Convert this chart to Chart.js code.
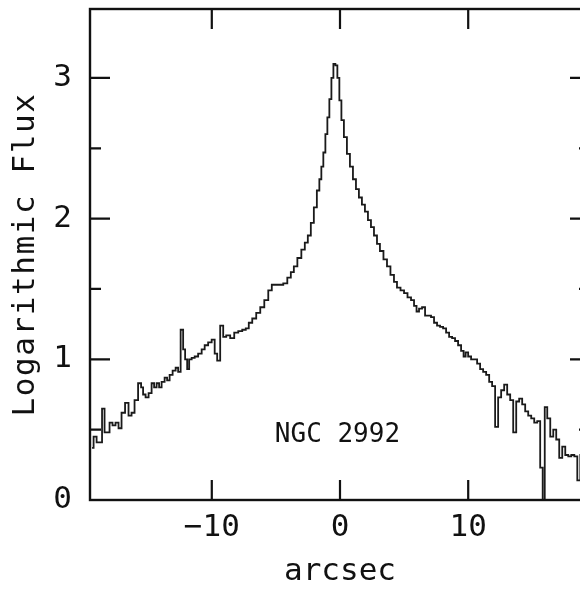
<!DOCTYPE html>
<html>
<head>
<meta charset="utf-8">
<script src="https://cdn.jsdelivr.net/npm/chart.js@4/dist/chart.umd.min.js"></script>
<style>
  html, body { margin: 0; padding: 0; background: #fff; overflow: hidden; width: 580px; height: 590px; }
  #wrap { position: relative; width: 620px; height: 590px; }
</style>
</head>
<body>
<div id="wrap"><canvas id="c" width="620" height="590"></canvas></div>
<script>
// Slit position along the galaxy (arcsec) and the logarithmic flux at each sample
const arcsec = [
  -19.34, -19.10, -18.87, -18.64, -18.48, -18.25, -18.09, -17.86, -17.63, -17.39,
  -17.16, -16.92, -16.61, -16.38, -16.14, -15.91, -15.59, -15.44, -15.28, -15.05,
  -14.81, -14.58, -14.42, -14.19, -14.03, -13.80, -13.56, -13.41, -13.17, -12.94,
  -12.70, -12.55, -12.31, -12.16, -12.00, -11.84, -11.69, -11.45, -11.22, -10.91,
  -10.67, -10.44, -10.13, -9.89, -9.66, -9.50, -9.19, -9.03, -8.72, -8.41,
  -8.09, -7.78, -7.47, -7.23, -7.00, -6.69, -6.38, -6.06, -5.75, -5.44,
  -5.20, -4.89, -4.58, -4.27, -3.95, -3.72, -3.48, -3.17, -2.86, -2.63,
  -2.39, -2.16, -1.92, -1.69, -1.53, -1.38, -1.22, -1.06, -0.91, -0.75,
  -0.59, -0.44, -0.28, -0.13, 0.03, 0.19, 0.42, 0.66, 0.89, 1.13,
  1.36, 1.59, 1.83, 2.06, 2.30, 2.53, 2.77, 3.00, 3.23, 3.55,
  3.78, 4.09, 4.33, 4.56, 4.88, 5.11, 5.42, 5.66, 5.89, 6.05,
  6.28, 6.52, 6.75, 6.98, 7.22, 7.45, 7.69, 7.92, 8.16, 8.39,
  8.63, 8.86, 9.09, 9.33, 9.56, 9.72, 9.88, 10.11, 10.34, 10.58,
  10.81, 11.05, 11.28, 11.52, 11.75, 11.98, 12.22, 12.45, 12.69, 12.92,
  13.16, 13.39, 13.63, 13.86, 14.09, 14.33, 14.56, 14.80, 15.03, 15.27,
  15.50, 15.73, 15.89, 16.05, 16.28, 16.52, 16.75, 16.98, 17.22, 17.45,
  17.69, 17.92, 18.16, 18.39, 18.63, 18.86, 19.10, 19.34
];
const logFlux = [
  0.37, 0.45, 0.41, 0.41, 0.65, 0.48, 0.48, 0.55, 0.53, 0.55,
  0.51, 0.62, 0.69, 0.60, 0.62, 0.71, 0.83, 0.80, 0.75, 0.73,
  0.76, 0.83, 0.80, 0.83, 0.80, 0.84, 0.87, 0.85, 0.89, 0.92,
  0.94, 0.91, 1.21, 1.07, 1.00, 0.93, 1.00, 1.01, 1.02, 1.04,
  1.07, 1.10, 1.12, 1.14, 1.04, 0.99, 1.24, 1.16, 1.17, 1.15,
  1.19, 1.20, 1.21, 1.22, 1.26, 1.29, 1.33, 1.37, 1.42, 1.49,
  1.53, 1.53, 1.53, 1.54, 1.58, 1.62, 1.66, 1.72, 1.78, 1.83,
  1.88, 1.97, 2.08, 2.20, 2.28, 2.37, 2.47, 2.60, 2.72, 2.85,
  3.00, 3.10, 3.09, 3.00, 2.84, 2.70, 2.58, 2.46, 2.37, 2.28,
  2.21, 2.15, 2.10, 2.05, 1.99, 1.94, 1.88, 1.82, 1.77, 1.71,
  1.66, 1.60, 1.55, 1.51, 1.49, 1.47, 1.44, 1.42, 1.38, 1.34,
  1.36, 1.37, 1.31, 1.31, 1.30, 1.26, 1.24, 1.23, 1.22, 1.19,
  1.16, 1.15, 1.13, 1.10, 1.06, 1.02, 1.05, 1.02, 1.00, 1.00,
  0.97, 0.93, 0.91, 0.89, 0.84, 0.81, 0.52, 0.73, 0.78, 0.82,
  0.75, 0.71, 0.48, 0.70, 0.72, 0.68, 0.63, 0.60, 0.58, 0.55,
  0.56, 0.23, 0.00, 0.66, 0.58, 0.45, 0.50, 0.43, 0.30, 0.38,
  0.32, 0.31, 0.32, 0.31, 0.14, 0.32, 0.30, 0.33
];
const xTickValues = [-10, 0, 10];
const yMajorTicks = [0, 1, 2, 3];
const yMinorTicks = [0.5, 1.5, 2.5];
const galaxyName = 'NGC 2992';
const xTitle = 'arcsec';
const yTitle = 'Logarithmic Flux';

const INK = '#111';
const MONO = '"DejaVu Sans Mono", "Liberation Mono", monospace';

// Closed frame with inward-pointing ticks on all four sides, axis titles and the object label
const framePlugin = {
  id: 'frame',
  afterDatasetsDraw(chart) {
    const { ctx, chartArea: a, scales: { x, y } } = chart;
    ctx.save();
    ctx.strokeStyle = INK;
    ctx.lineWidth = 2.4;
    ctx.strokeRect(a.left, a.top, a.right - a.left, a.bottom - a.top);
    ctx.lineWidth = 2.2;
    ctx.beginPath();
    xTickValues.forEach(v => {
      const px = x.getPixelForValue(v);
      ctx.moveTo(px, a.bottom); ctx.lineTo(px, a.bottom - 20);
      ctx.moveTo(px, a.top); ctx.lineTo(px, a.top + 20);
    });
    yMajorTicks.forEach(v => {
      const py = y.getPixelForValue(v);
      ctx.moveTo(a.left, py); ctx.lineTo(a.left + 20, py);
      ctx.moveTo(a.right, py); ctx.lineTo(a.right - 20, py);
    });
    yMinorTicks.forEach(v => {
      const py = y.getPixelForValue(v);
      ctx.moveTo(a.left, py); ctx.lineTo(a.left + 11, py);
      ctx.moveTo(a.right, py); ctx.lineTo(a.right - 11, py);
    });
    ctx.stroke();

    ctx.fillStyle = INK;
    ctx.textAlign = 'center';
    ctx.textBaseline = 'middle';

    ctx.font = '26px ' + MONO;
    ctx.fillText(galaxyName, x.getPixelForValue(-0.2), y.getPixelForValue(0.46));

    ctx.font = '31px ' + MONO;
    ctx.fillText(xTitle, x.getPixelForValue(0), 572);

    ctx.translate(26, (a.top + a.bottom) / 2);
    ctx.rotate(-Math.PI / 2);
    ctx.letterSpacing = '1.6px';
    ctx.fillText(yTitle, 0, 0);
    ctx.restore();
  }
};

new Chart(document.getElementById('c'), {
  type: 'line',
  data: {
    datasets: [{
      data: arcsec.map((v, i) => ({ x: v, y: logFlux[i] })),
      stepped: 'middle',
      borderColor: '#1a1a1a',
      borderWidth: 1.8,
      pointRadius: 0,
      fill: false
    }]
  },
  options: {
    responsive: false,
    animation: false,
    events: [],
    layout: { padding: { top: 9, right: 30, left: 0, bottom: 0 } },
    plugins: { legend: { display: false }, tooltip: { enabled: false } },
    scales: {
      x: {
        type: 'linear',
        min: -19.5,
        max: 19.5,
        afterFit(s) { s.height = 90; s.paddingLeft = 0; s.paddingRight = 0; },
        afterBuildTicks(s) { s.ticks = xTickValues.map(v => ({ value: v })); },
        grid: { display: false, drawTicks: false },
        border: { display: false },
        ticks: {
          color: INK,
          padding: 9,
          maxRotation: 0,
          font: { family: MONO, size: 31 },
          callback: v => (v < 0 ? '\u2212' + Math.abs(v) : String(v))
        },
        title: { display: false }
      },
      y: {
        type: 'linear',
        min: 0,
        max: 3.49,
        afterFit(s) { s.width = 90; s.paddingTop = 0; s.paddingBottom = 0; },
        afterBuildTicks(s) { s.ticks = yMajorTicks.map(v => ({ value: v })); },
        grid: { display: false, drawTicks: false },
        border: { display: false },
        ticks: {
          color: INK,
          padding: 18,
          font: { family: MONO, size: 31 }
        },
        title: { display: false }
      }
    }
  },
  plugins: [framePlugin]
});
</script>
</body>
</html>
